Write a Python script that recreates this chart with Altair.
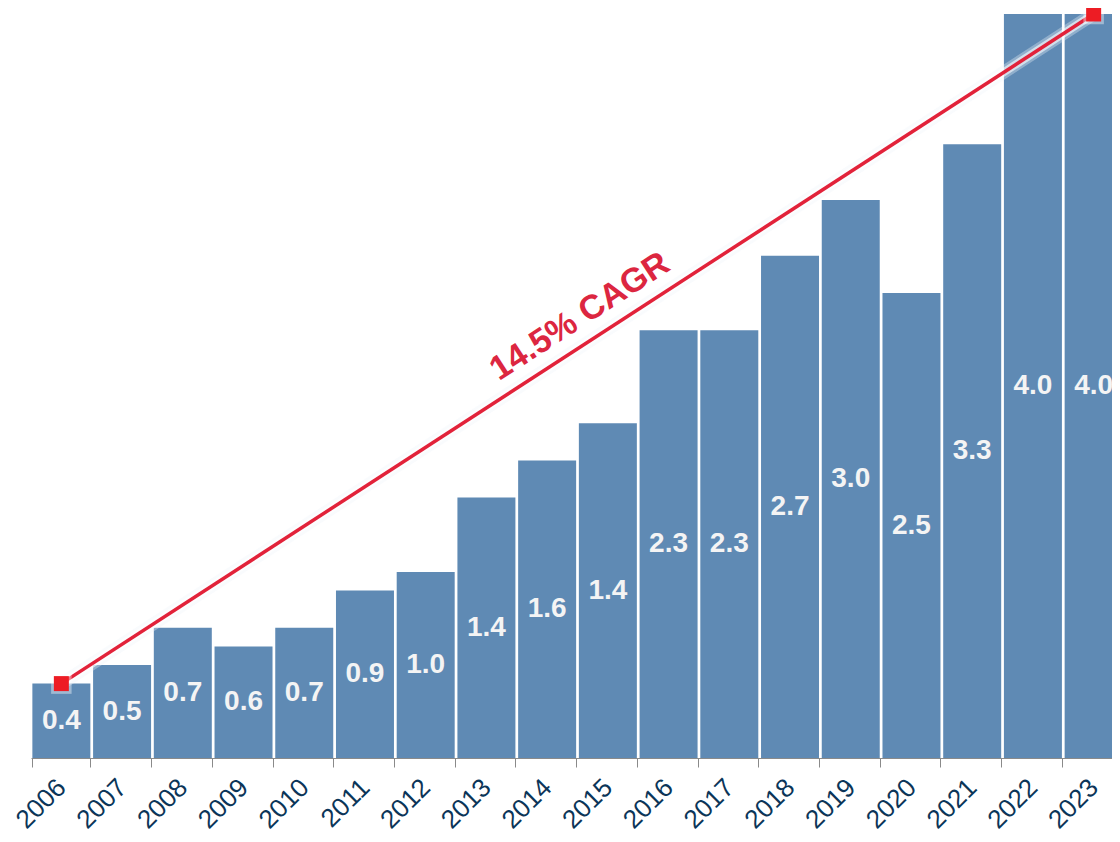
import altair as alt
import pandas as pd

years = [str(y) for y in range(2006, 2024)]
values = [0.4, 0.5, 0.7, 0.6, 0.7, 0.9, 1.0, 1.4, 1.6, 1.8, 2.3, 2.3, 2.7, 3.0, 2.5, 3.3, 4.0, 4.0]
labels = ["0.4", "0.5", "0.7", "0.6", "0.7", "0.9", "1.0", "1.4", "1.6", "1.4",
          "2.3", "2.3", "2.7", "3.0", "2.5", "3.3", "4.0", "4.0"]
cagr_text = "14.5% CAGR"

df = pd.DataFrame({"year": years, "value": values, "label": labels})
df["mid"] = df["value"] / 2
ends = df.iloc[[0, -1]].copy()
ann = pd.DataFrame({"year": [years[8]], "value": [(values[0] + values[-1]) / 2], "text": [cagr_text]})

xscale = alt.Scale(domain=years, range=[0, 1093], paddingInner=0.045)
yscale = alt.Scale(domain=[0, 4.0], nice=False, zero=True)

x = alt.X("year:N", scale=xscale, title=None,
          axis=alt.Axis(labelAngle=-45, labelAlign="right", labelBaseline="middle",
                        labelFontSize=26, labelColor="#0b3558", labelFont="Liberation Sans",
                        labelPadding=16, tickBand="extent", tickSize=9, tickColor="#8a8a8a",
                        domainColor="#8a8a8a", grid=False, labelOverlap=False))
y = alt.Y("value:Q", scale=yscale, axis=None)

bars = alt.Chart(df).mark_bar(color="#5f8ab4").encode(x=x, y=y)
texts = alt.Chart(df).mark_text(color="#f4f4f4", fontSize=28, fontWeight="bold",
                                font="Liberation Sans", baseline="middle").encode(
    x=alt.X("year:N", scale=xscale), y=alt.Y("mid:Q", scale=yscale), text="label:N")

enc = dict(x=alt.X("year:N", scale=xscale), y=alt.Y("value:Q", scale=yscale))
glow1 = alt.Chart(ends).mark_line(color="#eef3f8", strokeWidth=13, opacity=0.35).encode(**enc)
glow2 = alt.Chart(ends).mark_line(color="#ffffff", strokeWidth=8, opacity=0.6).encode(**enc)
line = alt.Chart(ends).mark_line(color="#e2223a", strokeWidth=3.5).encode(**enc)
sq_glow = alt.Chart(ends).mark_square(color="#ffffff", size=420, opacity=0.4).encode(**enc)
sq = alt.Chart(ends).mark_square(color="#ed1c24", size=225, opacity=1).encode(**enc)
note = alt.Chart(ann).mark_text(color="#dc2640", fontSize=34, fontWeight="bold",
                                font="Liberation Sans", angle=327, dx=45, dy=-9,
                                baseline="middle", align="center").encode(
    x=alt.X("year:N", scale=xscale), y=alt.Y("value:Q", scale=yscale), text="text:N")

chart = alt.layer(bars, texts, glow1, glow2, line, sq_glow, sq, note).properties(
    width=1081, height=744,
    autosize=alt.AutoSizeParams(type="none"),
    padding={"left": 23, "top": 6, "right": 0, "bottom": 77},
).configure_view(stroke=None)

chart.save("out.html", embed_options={"renderer": "svg", "actions": False})
